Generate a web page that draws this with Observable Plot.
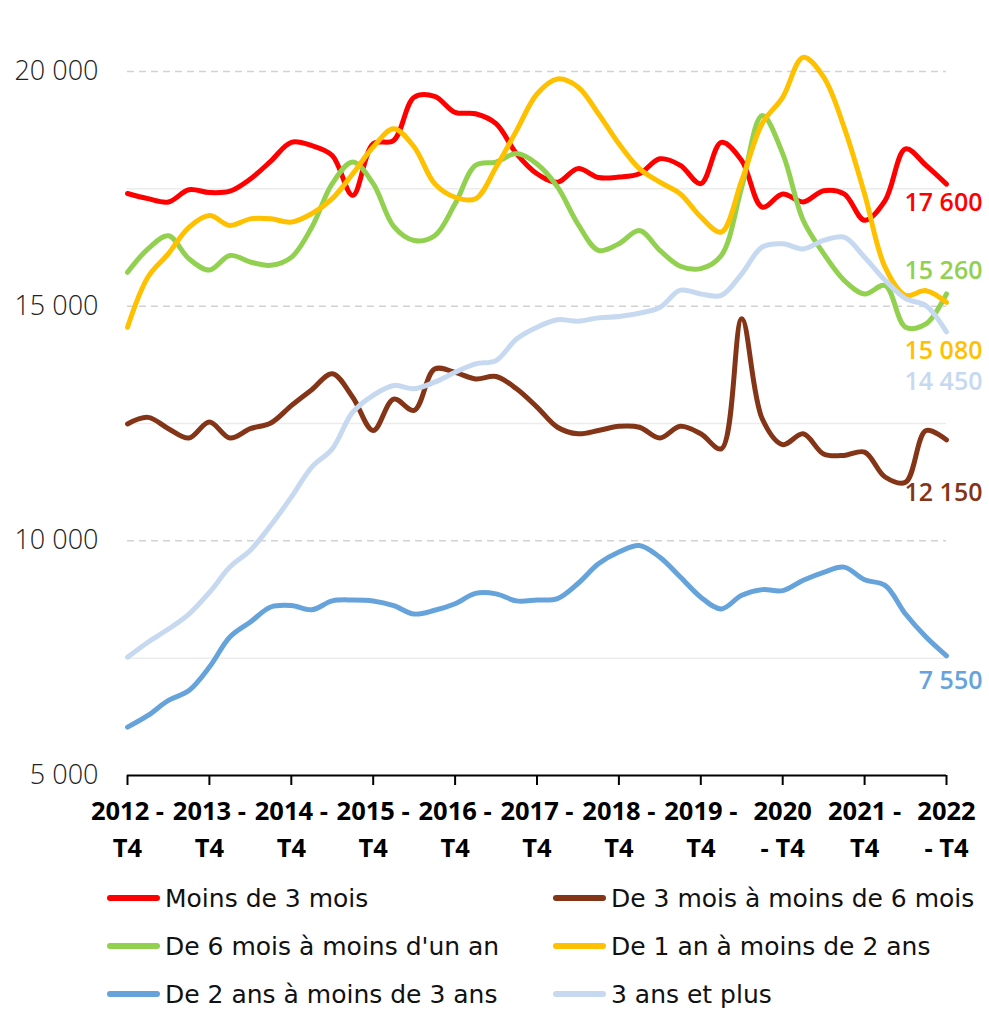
<!DOCTYPE html>
<html><head><meta charset="utf-8">
<script src="https://cdn.jsdelivr.net/npm/d3@7"></script>
<script src="https://cdn.jsdelivr.net/npm/@observablehq/plot@0.6"></script>
<style>
body{margin:0;background:#fff;}
#legend{display:grid;grid-template-columns:446px auto;padding-left:107px;margin-top:4px;font-family:"DejaVu Sans",sans-serif;font-size:25px;color:#111;}
.item{display:flex;align-items:center;height:48px;white-space:nowrap;}
.sw{display:inline-block;width:53px;height:6px;border-radius:3px;margin-right:5px;}
</style></head><body>
<div id="chart"></div>
<div id="legend"></div>
<script>
const periods = ["2012 - T4","2013 - T1","2013 - T2","2013 - T3","2013 - T4","2014 - T1","2014 - T2","2014 - T3","2014 - T4","2015 - T1","2015 - T2","2015 - T3","2015 - T4","2016 - T1","2016 - T2","2016 - T3","2016 - T4","2017 - T1","2017 - T2","2017 - T3","2017 - T4","2018 - T1","2018 - T2","2018 - T3","2018 - T4","2019 - T1","2019 - T2","2019 - T3","2019 - T4","2020 - T1","2020 - T2","2020 - T3","2020 - T4","2021 - T1","2021 - T2","2021 - T3","2021 - T4","2022 - T1","2022 - T2","2022 - T3","2022 - T4"];
const seriesNames = ["Moins de 3 mois","De 3 mois à moins de 6 mois","De 6 mois à moins d'un an","De 1 an à moins de 2 ans","De 2 ans à moins de 3 ans","3 ans et plus"];
const moins3mois = [17400,17290,17220,17480,17420,17450,17710,18090,18490,18420,18210,17360,18460,18530,19450,19470,19130,19100,18890,18250,17820,17640,17930,17740,17750,17820,18140,18000,17610,18490,18100,17110,17390,17220,17460,17390,16830,17250,18350,18000,17600];
const de3a6mois = [12490,12630,12390,12190,12530,12190,12390,12510,12880,13220,13560,13060,12350,13020,12780,13660,13590,13450,13500,13240,12850,12420,12280,12350,12440,12420,12190,12440,12280,11960,14730,12600,12050,12280,11850,11820,11890,11360,11250,12350,12150];
const de6moisA1an = [15720,16220,16500,16010,15770,16080,15940,15870,16040,16680,17610,18070,17610,16700,16400,16500,17180,18000,18070,18250,18030,17540,16750,16190,16330,16610,16190,15850,15800,16080,17540,19060,18250,16830,16120,15550,15260,15440,14550,14620,15260];
const de1a2ans = [14550,15620,16120,16680,16930,16720,16860,16860,16790,16970,17290,17820,18390,18780,18390,17610,17320,17290,17960,18740,19520,19840,19670,19100,18460,17930,17640,17390,16900,16580,17680,18890,19450,20300,19880,18810,17390,15830,15230,15330,15080];
const de2a3ans = [6030,6280,6600,6810,7310,7950,8270,8590,8620,8530,8720,8740,8720,8620,8440,8520,8660,8880,8870,8720,8740,8770,9090,9510,9760,9900,9650,9230,8800,8550,8840,8960,8940,9160,9330,9440,9170,9050,8440,7950,7550];
const troisAnsPlus = [7520,7840,8120,8440,8900,9440,9800,10330,10930,11570,11960,12740,13100,13310,13240,13380,13590,13770,13840,14300,14550,14710,14680,14750,14780,14850,14970,15340,15260,15230,15690,16260,16330,16220,16400,16470,16040,15550,15160,15010,14450];
const tickPeriods = ["2012 - T4","2013 - T4","2014 - T4","2015 - T4","2016 - T4","2017 - T4","2018 - T4","2019 - T4","2020 - T4","2021 - T4","2022 - T4"];
const tickLabels = ["2012 -\nT4","2013 -\nT4","2014 -\nT4","2015 -\nT4","2016 -\nT4","2017 -\nT4","2018 -\nT4","2019 -\nT4","2020\n- T4","2021 -\nT4","2022\n- T4"];
const yTicks = [5000,10000,15000,20000];
const majorGrid = [10000,15000,20000];
const minorGrid = [7500,12500,17500];

// styles
const colors = ["#ff0000","#843518","#92d050","#ffc000","#66a3db","#c6d9f0"];
const labelDy = [19,53,-23,49,25,50];

const allValues = [moins3mois,de3a6mois,de6moisA1an,de1a2ans,de2a3ans,troisAnsPlus];
const rows = [];
seriesNames.forEach((s,k)=>periods.forEach((p,i)=>rows.push({serie:s, period:p, value:allValues[k][i]})));

const fr = d3.formatLocale({decimal:",", thousands:"\u00a0", grouping:[3], currency:["","€"]});
const fmt = fr.format(",d");
const tickMap = new Map(tickPeriods.map((p,i)=>[p,tickLabels[i]]));

const marks = [
  Plot.ruleY(minorGrid,{stroke:"#ececec",strokeWidth:1.5}),
  Plot.ruleY(majorGrid,{stroke:"#d2d2d2",strokeWidth:1.5,strokeDasharray:"7,5"}),
  Plot.axisY({ticks:yTicks,tickSize:0,tickPadding:29,tickFormat:fmt,fontSize:27,fontWeight:300,fill:"#222",fontFamily:"Open Sans",label:null}),
  Plot.axisX({ticks:tickPeriods,tickSize:10,tickPadding:8,tickFormat:d=>tickMap.get(d),fontSize:25.5,fontWeight:"bold",fill:"#000",stroke:"#000",strokeWidth:2,lineHeight:1.46,fontFamily:"Open Sans",label:null}),
  Plot.ruleY([5000],{stroke:"#000",strokeWidth:2}),
];
seriesNames.forEach((s,k)=>{
  marks.push(Plot.line(rows.filter(r=>r.serie===s),{x:"period",y:"value",stroke:colors[k],strokeWidth:5,curve:"catmull-rom"}));
});
seriesNames.forEach((s,k)=>{
  const last = rows.filter(r=>r.serie===s).slice(-1);
  marks.push(Plot.text(last,{x:"period",y:"value",text:d=>fmt(d.value),textAnchor:"end",dx:36,dy:labelDy[k],fill:colors[k],fontSize:25,fontWeight:600,fontFamily:"Open Sans"}));
});

const chart = Plot.plot({
  width:989, height:870,
  marginLeft:127, marginRight:43, marginTop:47.5, marginBottom:95,
  style:{fontFamily:"Open Sans",background:"#fff",overflow:"visible"},
  x:{type:"point",domain:periods,padding:0,round:false},
  y:{domain:[5000,20500]},
  marks
});
document.getElementById("chart").appendChild(chart);

const lg = document.getElementById("legend");
seriesNames.forEach((s,k)=>{
  const it = document.createElement("div"); it.className="item";
  const sw = document.createElement("span"); sw.className="sw"; sw.style.background=colors[k];
  it.appendChild(sw); it.appendChild(document.createTextNode(s));
  lg.appendChild(it);
});
</script></body></html>
